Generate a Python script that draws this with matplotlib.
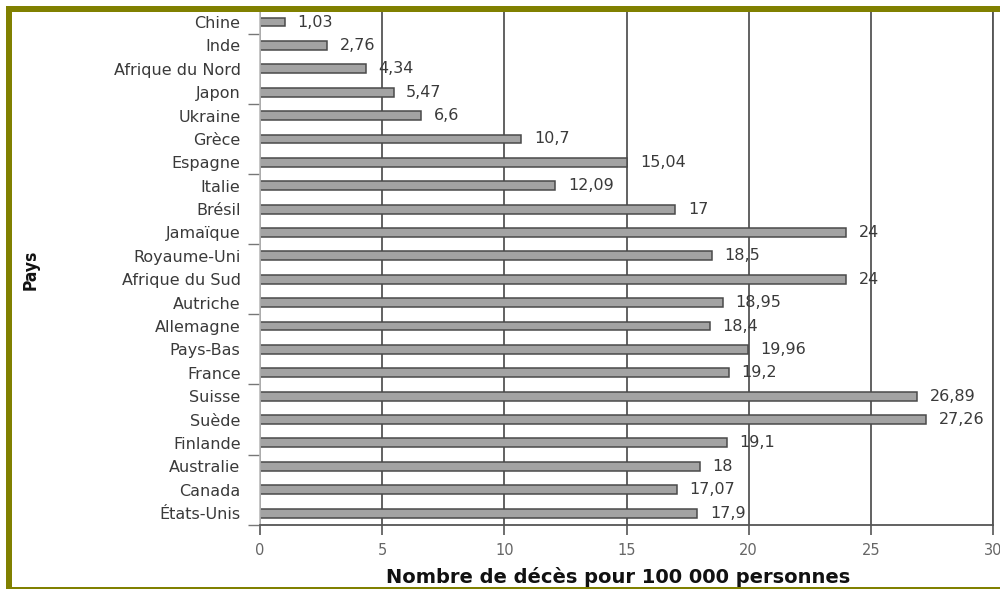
import matplotlib
matplotlib.use("Agg")
import matplotlib.pyplot as plt
from matplotlib.patches import Rectangle
from matplotlib.ticker import FixedLocator

plt.rcParams['font.family'] = ['DejaVu Sans']

# Pays (de haut en bas) et nombre de décès pour 100 000 personnes
pays = ["Chine", "Inde", "Afrique du Nord", "Japon", "Ukraine", "Grèce",
        "Espagne", "Italie", "Brésil", "Jamaïque", "Royaume-Uni",
        "Afrique du Sud", "Autriche", "Allemagne", "Pays-Bas", "France",
        "Suisse", "Suède", "Finlande", "Australie", "Canada", "États-Unis"]
deces = [1.03, 2.76, 4.34, 5.47, 6.6, 10.7, 15.04, 12.09, 17, 24, 18.5,
         24, 18.95, 18.4, 19.96, 19.2, 26.89, 27.26, 19.1, 18, 17.07, 17.9]
x_ticks = [0, 5, 10, 15, 20, 25, 30]

W, H = 1000, 589
fig = plt.figure(figsize=(W / 100, H / 100), dpi=100)
fig.patch.set_facecolor("white")

ax = fig.add_axes([260 / W, 1 - 525 / H, (993 - 260) / W, (525 - 12) / H])

n = len(pays)
ypos = list(range(n - 1, -1, -1))
ax.barh(ypos, deces, height=0.38, color="#a3a3a3", edgecolor="#4a4a4a",
        linewidth=1.1, zorder=2)

for y, v in zip(ypos, deces):
    txt = f"{v:g}".replace(".", ",")
    ax.annotate(txt, xy=(v, y), xytext=(9, 0), textcoords="offset points",
                va="center", ha="left", fontsize=11.5, color="#3a3a3a",
                zorder=1)

ax.set_xlim(0, 30)
ax.set_ylim(-0.51, n - 1 + 0.43)
ax.set_xticks(x_ticks)
ax.set_xticklabels([str(t) for t in x_ticks], fontsize=10.5, color="#666666")
ax.set_yticks(ypos)
ax.set_yticklabels(pays, fontsize=11.5, color="#3a3a3a")
ax.tick_params(axis="y", length=0, pad=14)
ax.tick_params(axis="x", length=7, width=1.2, color="#555555", pad=6)

# Petits repères tous les trois pays
ax.yaxis.set_minor_locator(FixedLocator([-0.5 + 3 * k for k in range(8)]))
ax.tick_params(axis="y", which="minor", length=9, width=1.0, color="#777777")

ax.grid(axis="x", color="#555555", linewidth=1.3, zorder=0)
ax.set_axisbelow(True)

ax.spines["top"].set_visible(False)
ax.spines["left"].set_color("#bbbbbb")
ax.spines["left"].set_linewidth(1.2)
ax.spines["bottom"].set_color("#555555")
ax.spines["bottom"].set_linewidth(1.3)
ax.spines["right"].set_color("#555555")
ax.spines["right"].set_linewidth(1.3)

fig.text(618 / W, 1 - 577 / H, "Nombre de décès pour 100 000 personnes",
         ha="center", va="center", fontsize=14, fontweight="bold",
         color="#111111")
fig.text(31 / W, 1 - 270 / H, "Pays", rotation=90, ha="center", va="center",
         fontsize=12.5, fontweight="bold", fontstretch="condensed",
         color="#111111")

# Cadre olive
olive = "#808000"
fig.add_artist(Rectangle((6 / W, 1 - 12 / H), 1.0, 6 / H,
                         transform=fig.transFigure, color=olive, lw=0))
fig.add_artist(Rectangle((6 / W, 0), 6 / W, 1 - 6 / H,
                         transform=fig.transFigure, color=olive, lw=0))
fig.add_artist(Rectangle((6 / W, 0), 1.0, 2 / H,
                         transform=fig.transFigure, color=olive, lw=0))

fig.savefig("out.png", dpi=100)
